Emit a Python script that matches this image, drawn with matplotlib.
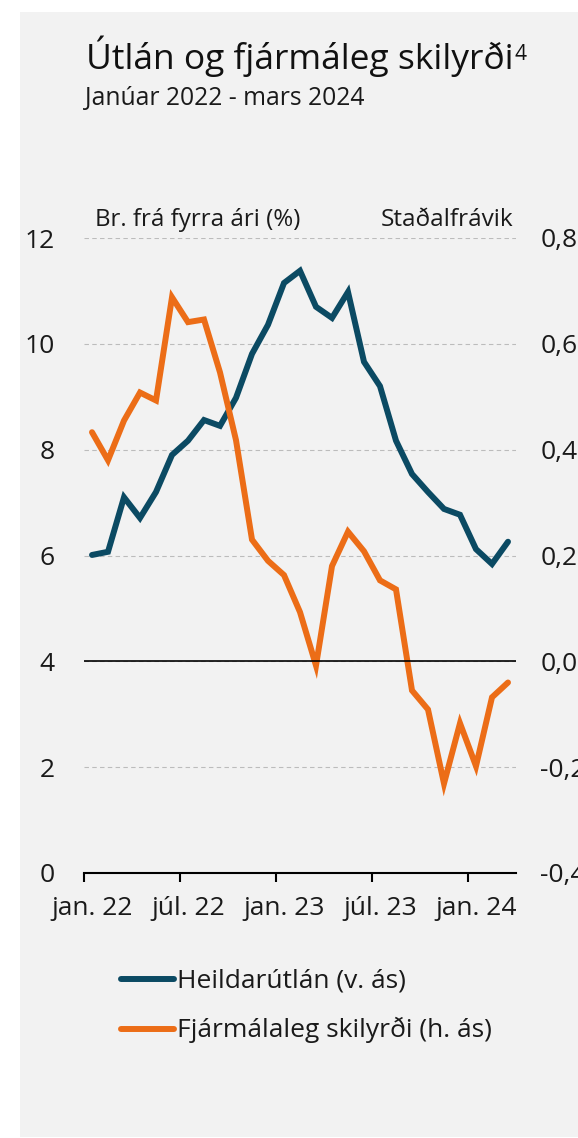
import matplotlib
matplotlib.use("Agg")
import matplotlib.pyplot as plt
from matplotlib.patches import Rectangle

plt.rcParams['font.family'] = ['Open Sans', 'DejaVu Sans']

# mánaðarleg gildi jan. 2022 - mars 2024
heildarutlan = [6.01, 6.07, 7.10, 6.71, 7.20, 7.90, 8.17, 8.56, 8.45, 8.98,
                 9.81, 10.36, 11.15, 11.38, 10.70, 10.49, 10.98, 9.66, 9.20, 8.17,
                 7.54, 7.20, 6.88, 6.77, 6.12, 5.84, 6.26]
fjarmal = [0.433, 0.380, 0.455, 0.508, 0.493, 0.688, 0.641, 0.646, 0.546, 0.418,
           0.230, 0.190, 0.163, 0.093, -0.008, 0.180, 0.245, 0.208, 0.153, 0.136,
           -0.055, -0.091, -0.231, -0.117, -0.198, -0.068, -0.040]
x_labels = ['jan. 22', 'júl. 22', 'jan. 23', 'júl. 23', 'jan. 24']
left_ticks = [0, 2, 4, 6, 8, 10, 12]
right_ticks = [-0.4, -0.2, 0.0, 0.2, 0.4, 0.6, 0.8]
right_labels = ['-0,4', '-0,2', '0,0', '0,2', '0,4', '0,6', '0,8']

blue = '#0b4a63'
orange = '#ec6d17'
bg = '#f2f2f2'
txt = '#1a1a1a'
W, H = 578, 1138

fig = plt.figure(figsize=(W / 100, H / 100), dpi=100, facecolor='white')
fig.patches.append(Rectangle((20 / W, 1 / H), 1 - 20 / W, (H - 13) / H,
                             transform=fig.transFigure, facecolor=bg,
                             edgecolor='none', zorder=-10))

ax = fig.add_axes([84 / W, 1 - 873 / H, (516 - 84) / W, (873 - 238) / H])
ax.set_facecolor('none')
ax2 = ax.twinx()

n = len(heildarutlan)
xs = [i + 0.5 for i in range(n)]

ax.plot(xs, heildarutlan, color=blue, lw=4.3, solid_joinstyle='miter',
        solid_capstyle='round')
ax2.plot(xs, fjarmal, color=orange, lw=4.3, solid_joinstyle='miter',
         solid_capstyle='round')
ax2.axhline(0, color='black', lw=1.2)

ax.set_xlim(0, n)
ax.set_ylim(0, 12)
ax2.set_ylim(-0.4, 0.8)

ax.set_yticks(left_ticks)
ax.set_yticklabels([str(v) for v in left_ticks])
ax2.set_yticks(right_ticks)
ax2.set_yticklabels(right_labels)

ax.set_xticks([0, 6, 12, 18, 24])
ax.set_xticklabels([])
ax.set_xticks([0.5, 6.5, 12.5, 18.5, 24.5], minor=True)
ax.set_xticklabels(x_labels, minor=True)
ax.tick_params(axis='x', which='major', length=6.5, width=1.5, color='black')
ax.tick_params(axis='x', which='minor', length=0, pad=16.5, labelsize=19,
               labelcolor=txt)
ax.tick_params(axis='y', length=0, pad=21, labelsize=19, labelcolor=txt)
ax2.tick_params(axis='y', length=0, pad=17.5, labelsize=19, labelcolor=txt)

ax.grid(axis='y', color='#bcbcbc', lw=0.8, ls=(0, (4, 3)))
ax.set_axisbelow(True)
for a in (ax, ax2):
    for s in ('left', 'right', 'top'):
        a.spines[s].set_visible(False)
ax.spines['bottom'].set_color('black')
ax.spines['bottom'].set_linewidth(1.5)
ax2.spines['bottom'].set_visible(False)

# textar
title = fig.text(86 / W, 1 - 69 / H, 'Útlán og fjármáleg skilyrði', fontsize=25.5,
                 color='#111111', va='baseline', ha='left')
fig.canvas.draw()
bb = title.get_window_extent(fig.canvas.get_renderer())
fig.text((bb.x1 + 1) / W, 1 - 60 / H, '4', fontsize=15, color='#111111',
         va='baseline', ha='left')
fig.text(85 / W, 1 - 105 / H, 'Janúar 2022 - mars 2024', fontsize=17.7,
         color=txt, va='baseline', ha='left')
fig.text(95 / W, 1 - 226 / H, 'Br. frá fyrra ári (%)', fontsize=17.4,
         color=txt, va='baseline', ha='left')
fig.text(513 / W, 1 - 226 / H, 'Staðalfrávik', fontsize=17.6,
         color=txt, va='baseline', ha='right')

# skýringar
leg_items = [('Heildarútlán (v. ás)', blue, 979),
             ('Fjármálaleg skilyrði (h. ás)', orange, 1029)]
for label, col, yp in leg_items:
    fig.add_artist(plt.Line2D([121 / W, 174 / W], [1 - yp / H, 1 - yp / H],
                              transform=fig.transFigure, color=col, lw=4.3,
                              solid_capstyle='round'))
    fig.text(177 / W, 1 - (yp + 8) / H, label, fontsize=19, color=txt,
             va='baseline', ha='left')

fig.savefig('out.png', dpi=100, facecolor='white')
